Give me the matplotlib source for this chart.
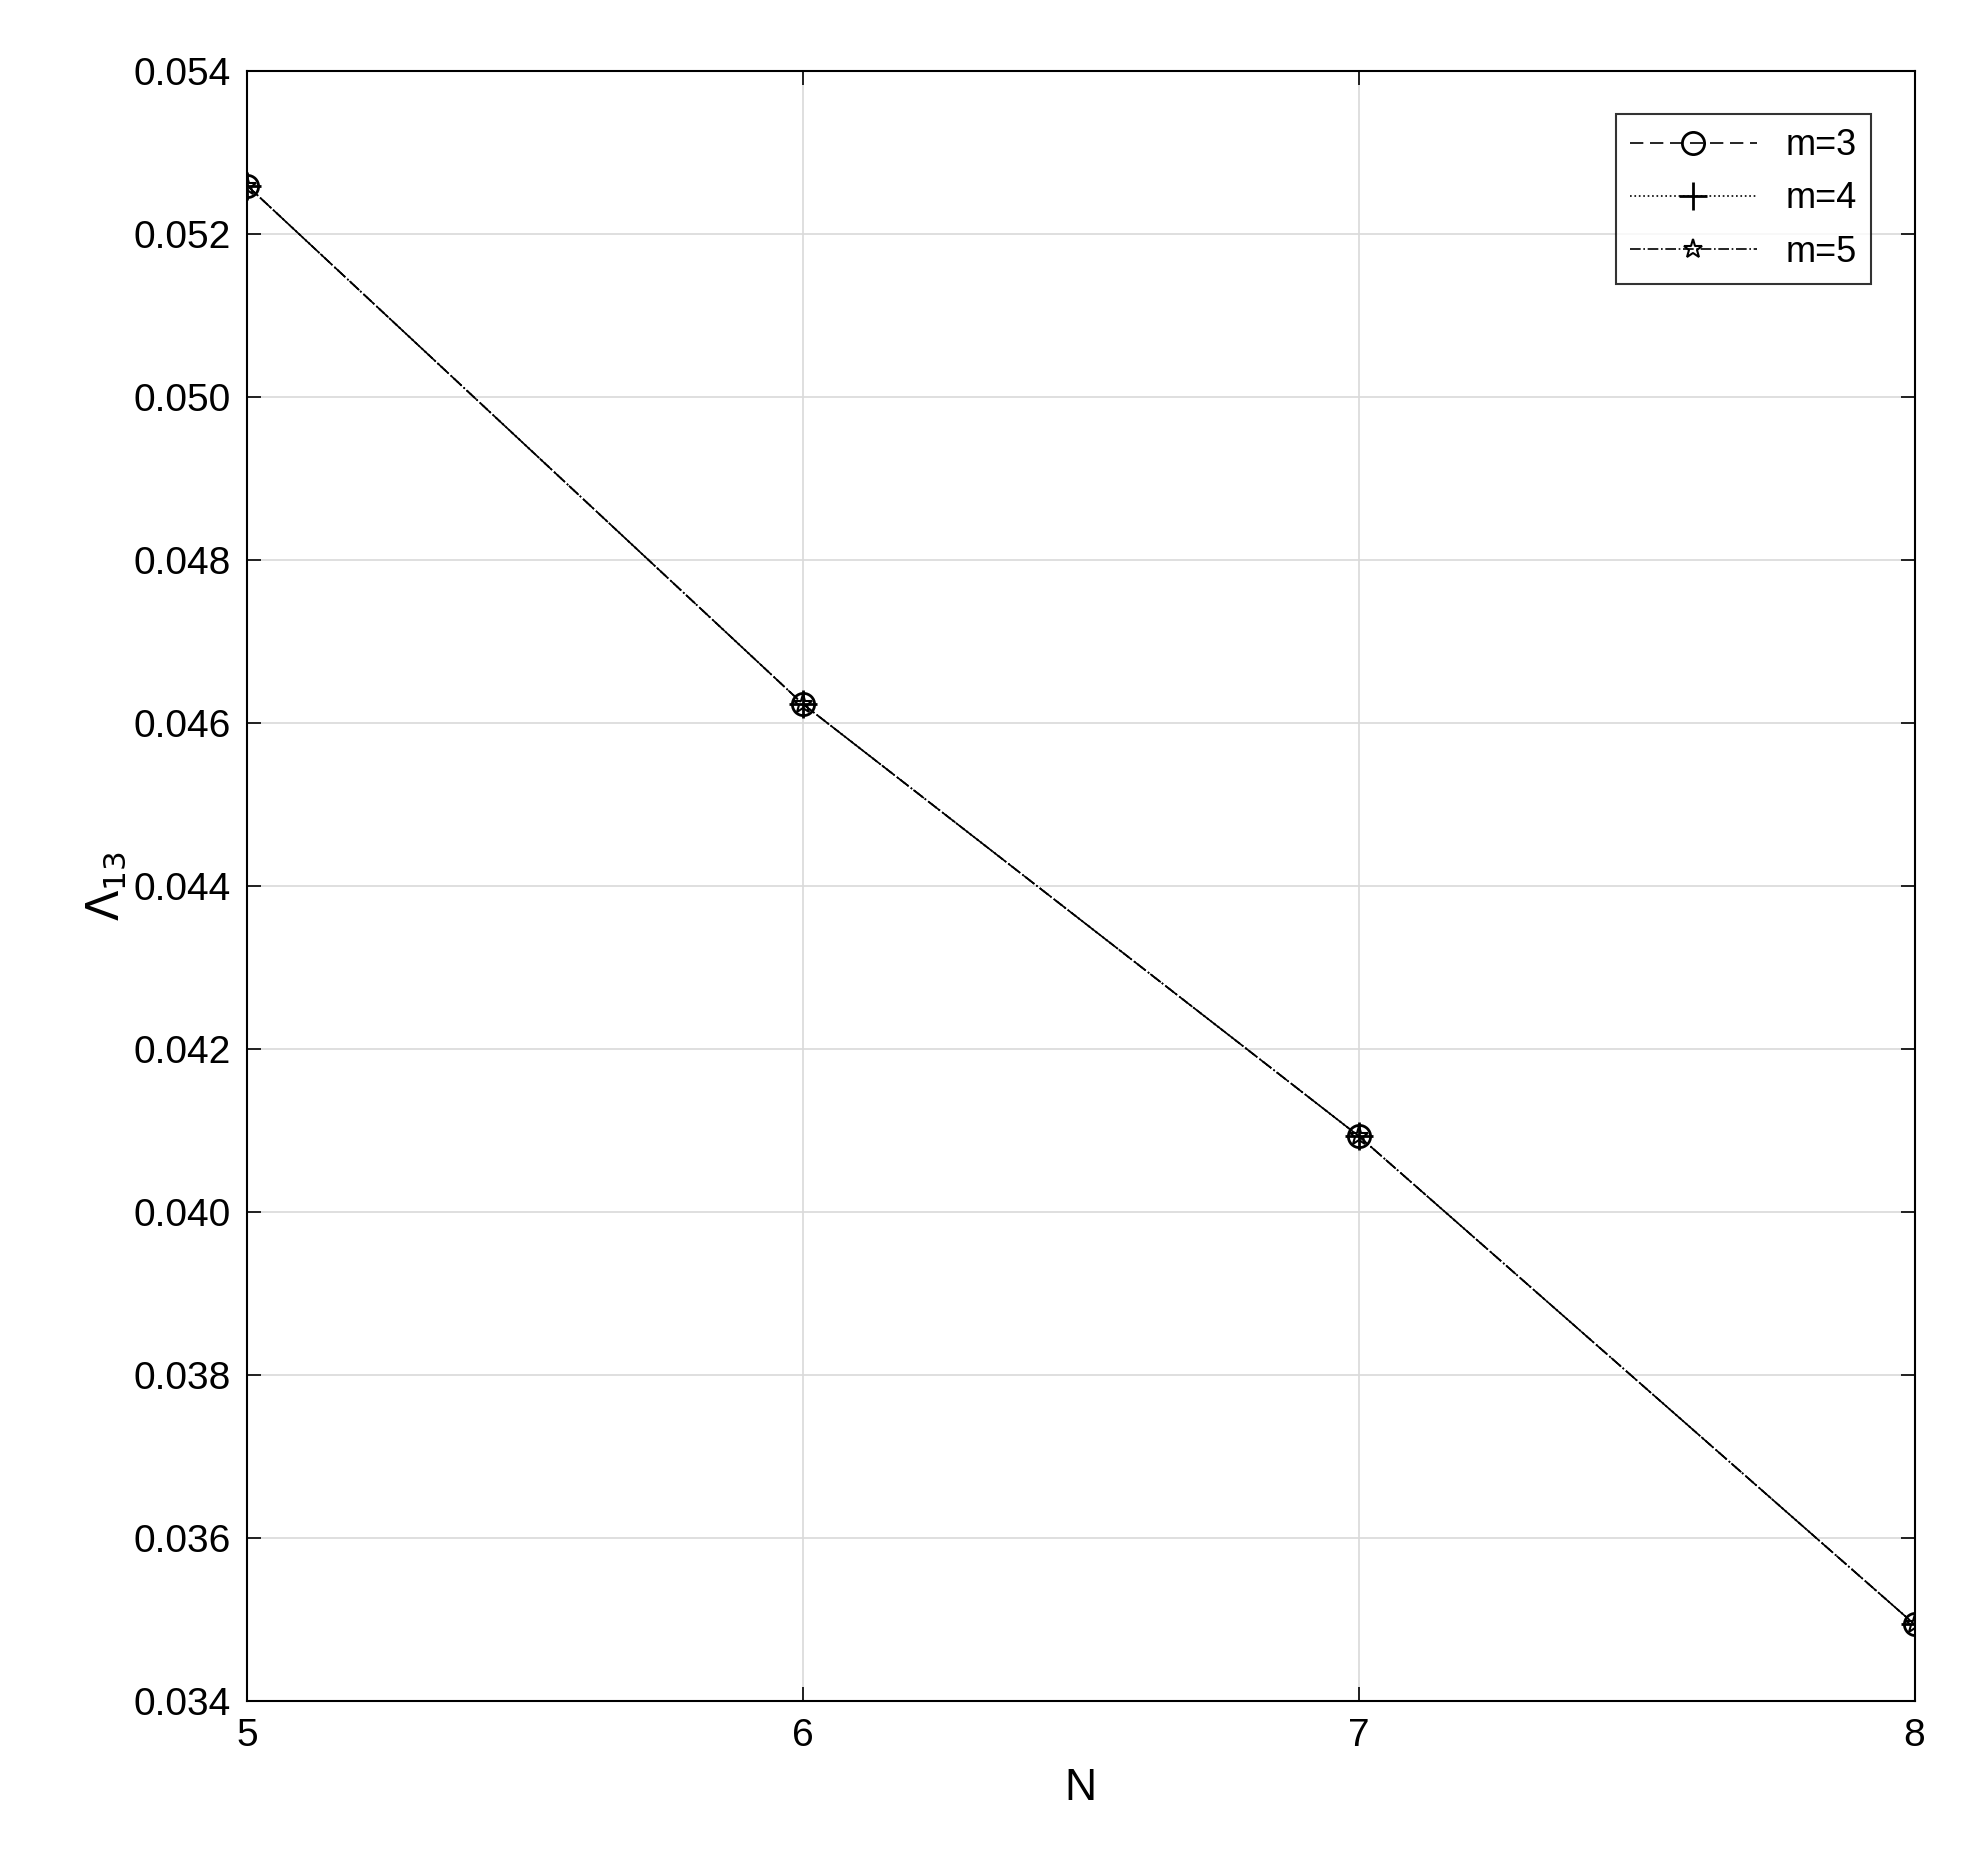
import matplotlib
matplotlib.use("Agg")
import matplotlib.pyplot as plt

N = [5, 6, 7, 8]
m3 = [0.05259, 0.04623, 0.04093, 0.03494]
m4 = [0.05259, 0.04623, 0.04093, 0.03494]
m5 = [0.05259, 0.04623, 0.04093, 0.03494]
yticks = [0.034, 0.036, 0.038, 0.040, 0.042, 0.044, 0.046, 0.048, 0.050, 0.052, 0.054]

plt.rcParams['font.family'] = ['Liberation Sans', 'DejaVu Sans']
fig = plt.figure(figsize=(19.85, 18.59), dpi=100)
ax = fig.add_axes([0.1245, 0.085, 0.84, 0.877])
ax.plot(N, m3, color='k', ls=(0, (8, 4)), lw=1.2, marker='o', mfc='none', ms=16, mew=2, label='m=3')
ax.plot(N, m4, color='k', ls=':', lw=1.2, marker='+', ms=20, mew=2, label='m=4')
ax.plot(N, m5, color='k', ls='-.', lw=1.2, marker='*', mfc='none', ms=14, mew=1.5, label='m=5')
ax.set_xlim(5, 8)
ax.set_ylim(0.034, 0.054)
ax.set_xticks(N)
ax.set_yticks(yticks)
ax.set_yticklabels([f"{v:.3f}" for v in yticks])
ax.grid(True, color='#d9d9d9', lw=1.2)
ax.tick_params(labelsize=28, direction='in', length=10, width=1.2, top=True, right=True, pad=12)
for s in ax.spines.values():
    s.set_linewidth(1.5)
ax.set_xlabel('N', fontsize=32, labelpad=10)
ax.set_ylabel(r'$\Lambda_{13}$', fontsize=32)
leg = ax.legend(loc='upper right', fontsize=26, frameon=True, fancybox=False, edgecolor='k',
                handlelength=3.5, borderaxespad=1.2)
leg.get_frame().set_linewidth(1.5)
fig.savefig('out.png', dpi=100)
